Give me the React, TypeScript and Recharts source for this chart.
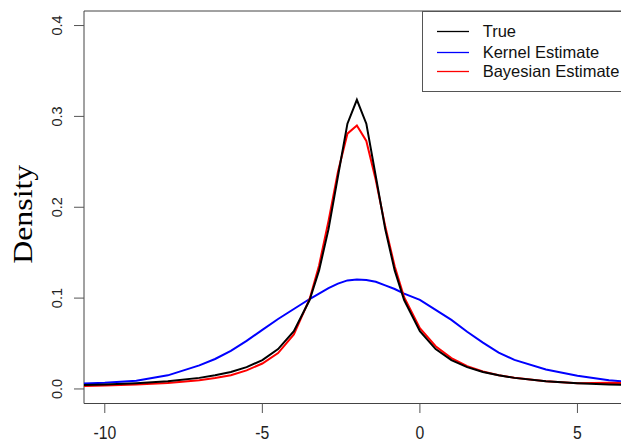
import { LineChart, Line, XAxis, YAxis, ReferenceArea, Legend } from 'recharts';

// grid of x values the densities were read at
const xs = [
    -10.7, -10, -9, -8, -7, -6.5, -6, -5.5, -5, -4.5, -4, -3.5, -3.2, -2.9, -2.6, -2.3, -2,
    -1.7, -1.4, -1.1, -0.8, -0.5, 0, 0.5, 1, 1.5, 2, 2.5, 3, 4, 5, 6, 7
];

const trueDensity = [
    0.0042, 0.0049, 0.0064, 0.0086, 0.0122, 0.015, 0.0187, 0.024, 0.0318, 0.0439, 0.0637, 0.0979,
    0.1305, 0.1759, 0.2341, 0.292, 0.3183, 0.292, 0.2341, 0.1759, 0.1305, 0.0979, 0.0637, 0.0439,
    0.0318, 0.024, 0.0187, 0.015, 0.0122, 0.0086, 0.0064, 0.0049, 0.0039
];

const kernelDensity = [
    0.006, 0.0068, 0.009, 0.015, 0.026, 0.033, 0.042, 0.053, 0.065, 0.077, 0.088, 0.099,
    0.105, 0.111, 0.116, 0.1195, 0.1205, 0.12, 0.118, 0.114, 0.11, 0.105, 0.098, 0.087,
    0.076, 0.063, 0.051, 0.04, 0.032, 0.0215, 0.0145, 0.0095, 0.007
];

const bayesDensity = [
    0.0033, 0.0038, 0.0048, 0.0065, 0.0095, 0.012, 0.0152, 0.0205, 0.028, 0.0395, 0.06, 0.099,
    0.136, 0.185, 0.239, 0.281, 0.29, 0.273, 0.23, 0.179, 0.135, 0.101, 0.067, 0.047,
    0.034, 0.025, 0.0192, 0.0152, 0.0123, 0.0086, 0.0064, 0.0068, 0.0062
];

const xTicks = [-10, -5, 0, 5];
const yTicks = [0, 0.1, 0.2, 0.3, 0.4];
const seriesNames = ['True', 'Kernel Estimate', 'Bayesian Estimate'];
const seriesColors = ['#000000', '#0000ff', '#ff0000'];

const xDomain: [number, number] = [-10.66, 7.16];
const yDomain: [number, number] = [-0.016, 0.416];

const chartData = xs.map((x, i) => ({
    x,
    trueD: trueDensity[i],
    kernel: kernelDensity[i],
    bayes: bayesDensity[i]
}));

const sans = "'Liberation Sans', Arial, sans-serif";

// the original image is a little squeezed sideways, so text is scaled to match
const XTick = ({ x, y, payload }: any) => (
    <text
        transform={`translate(${x},${y + 23.7}) scale(0.9,1)`}
        textAnchor="middle"
        fontFamily={sans}
        fontSize={17.5}
        fill="#222"
    >
        {payload.value}
    </text>
);

const YTick = ({ x, y, payload }: any) => (
    <text
        transform={`translate(${x - 10.3},${y}) rotate(-90)`}
        textAnchor="middle"
        fontFamily={sans}
        fontSize={14.5}
        fill="#222"
    >
        {Number(payload.value).toFixed(1)}
    </text>
);

const DensityLabel = ({ viewBox }: any) => {
    const cx = viewBox.x + 31.7;
    const cy = viewBox.y + viewBox.height / 2 + 7;
    return (
        <text
            transform={`translate(${cx},${cy}) rotate(-90) scale(1.18,1)`}
            textAnchor="middle"
            fontFamily="'Liberation Serif', 'Times New Roman', serif"
            fontSize={27}
            fill="#000"
        >
            Density
        </text>
    );
};

const rowYs = [20, 41, 60];

const BoxLegend = () => (
    <div style={{
        position: 'relative',
        width: 224,
        height: 81,
        border: '1px solid #555',
        boxSizing: 'border-box',
        background: '#fff'
    }}>
        <svg width={60} height={81} style={{ position: 'absolute', left: 0, top: 0 }}>
            {seriesNames.map((name, i) => (
                <line
                    key={name}
                    x1={14}
                    x2={46}
                    y1={rowYs[i] - 0.5}
                    y2={rowYs[i] - 0.5}
                    stroke={seriesColors[i]}
                    strokeWidth={1.3}
                />
            ))}
        </svg>
        {seriesNames.map((name, i) => (
            <span
                key={name}
                style={{
                    position: 'absolute',
                    left: 60,
                    top: rowYs[i] - 11,
                    lineHeight: '20px',
                    fontFamily: sans,
                    fontSize: 16.5,
                    color: '#111',
                    whiteSpace: 'nowrap'
                }}
            >
                {name}
            </span>
        ))}
    </div>
);

const App = () => (
    <div style={{
        position: 'absolute',
        left: 0,
        top: 0,
        width: 621,
        height: 445,
        overflow: 'hidden',
        background: '#fff'
    }}>
        <LineChart
            width={650}
            height={445}
            data={chartData}
            margin={{ top: 11, right: 4.5, bottom: 0, left: 0 }}
        >
            <XAxis
                type="number"
                dataKey="x"
                domain={xDomain}
                ticks={xTicks}
                allowDataOverflow
                height={41.5}
                axisLine={false}
                tickLine={{ stroke: '#555' }}
                tickSize={9.5}
                tick={<XTick />}
            />
            <YAxis
                type="number"
                domain={yDomain}
                ticks={yTicks}
                allowDataOverflow
                width={84}
                axisLine={false}
                tickLine={{ stroke: '#555' }}
                tickSize={10}
                tick={<YTick />}
                label={<DensityLabel />}
            />
            <ReferenceArea
                x1={xDomain[0]}
                x2={xDomain[1]}
                y1={yDomain[0]}
                y2={yDomain[1]}
                fill="none"
                stroke="#444"
                strokeWidth={1}
            />
            <Line type="linear" dataKey="kernel" name={seriesNames[1]} stroke={seriesColors[1]} strokeWidth={2} dot={false} isAnimationActive={false} />
            <Line type="linear" dataKey="bayes" name={seriesNames[2]} stroke={seriesColors[2]} strokeWidth={2} dot={false} isAnimationActive={false} />
            <Line type="linear" dataKey="trueD" name={seriesNames[0]} stroke={seriesColors[0]} strokeWidth={2} dot={false} isAnimationActive={false} />
            <Legend
                layout="horizontal"
                align="center"
                verticalAlign="middle"
                content={<BoxLegend />}
                wrapperStyle={{ position: 'absolute', left: 421.7, top: 10.7, width: 224, height: 81 }}
            />
        </LineChart>
    </div>
);

export default App;
